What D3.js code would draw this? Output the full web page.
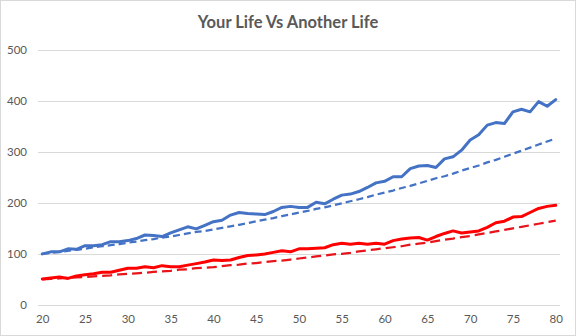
<!DOCTYPE html>
<html>
<head>
<meta charset="utf-8">
<script src="https://cdn.jsdelivr.net/npm/d3@7"></script>
<style>
  html, body { margin: 0; padding: 0; background: #fff; }
  svg { display: block; }
  text { font-family: Lato, "Open Sans", sans-serif; fill: #595959; }
</style>
</head>
<body>
<svg id="chart" width="576" height="336"></svg>
<script>
// Ages on the category axis
const ages = d3.range(20, 81);
const xTickLabels = [20, 25, 30, 35, 40, 45, 50, 55, 60, 65, 70, 75, 80];
const yTickValues = [0, 100, 200, 300, 400, 500];

// "Your life" (blue, solid) and its trend (blue, dashed)
const yourLife = [100, 104, 104, 110, 109, 116, 116, 118, 124, 124,
  126, 130, 137, 136, 134, 141, 147, 153, 149, 156,
  163, 166, 176, 181, 179, 178, 177, 183, 191, 193,
  191, 191, 201, 198, 207, 215, 217, 222, 230, 239,
  242, 251, 251, 267, 272, 273, 269, 286, 290, 303,
  323, 333, 352, 357, 355, 378, 383, 378, 398, 389, 402];
const yourTrend = [100, 102, 104, 106, 108, 110, 113, 115, 117, 119,
  122, 124, 127, 129, 132, 134, 137, 140, 143, 145,
  148, 151, 154, 157, 160, 164, 167, 170, 174, 177,
  181, 184, 188, 191, 195, 199, 203, 207, 211, 216,
  220, 224, 229, 233, 238, 243, 248, 252, 257, 263,
  268, 273, 279, 284, 290, 296, 302, 308, 314, 320, 326];

// "Another life" (red, solid) and its trend (red, dashed)
const anotherLife = [51, 53, 55, 52, 57, 59, 61, 64, 64, 68,
  72, 72, 75, 73, 77, 75, 75, 78, 81, 84,
  88, 87, 88, 93, 97, 98, 100, 103, 106, 104,
  110, 110, 111, 112, 118, 121, 119, 121, 119, 121,
  119, 126, 129, 131, 132, 127, 134, 140, 145, 141,
  143, 145, 152, 161, 164, 172, 173, 181, 189, 193, 195];
const anotherTrend = [50, 51, 52, 53, 54, 55, 56, 57, 58, 60,
  61, 62, 63, 65, 66, 67, 69, 70, 72, 73,
  74, 76, 78, 79, 81, 82, 84, 86, 87, 89,
  91, 93, 95, 97, 99, 100, 102, 105, 107, 109,
  111, 113, 115, 118, 120, 122, 125, 128, 130, 133,
  135, 138, 141, 144, 147, 150, 153, 156, 159, 162, 165];

const svg = d3.select("#chart");
const W = 576, H = 336;
const plot = { left: 38, right: 560, top: 49.5, bottom: 305 };

// Chart frame
svg.append("rect")
  .attr("x", 0.5).attr("y", 0.5)
  .attr("width", W - 1).attr("height", H - 1)
  .attr("fill", "#fff").attr("stroke", "#d9d9d9");

// Title
svg.append("text")
  .attr("x", W / 2).attr("y", 28)
  .attr("text-anchor", "middle")
  .style("font-size", "16.5px").style("font-weight", "bold")
  .text("Your Life Vs Another Life");

// Scales: categories sit in the middle of equal bands
const x = d3.scaleBand().domain(ages).range([plot.left, plot.right]);
const xc = a => x(a) + x.bandwidth() / 2;
const y = d3.scaleLinear().domain([0, 500]).range([plot.bottom, plot.top]);

// Horizontal gridlines
svg.append("g")
  .attr("transform", `translate(${plot.left},0)`)
  .call(d3.axisLeft(y).tickValues(yTickValues).tickSize(-(plot.right - plot.left)).tickFormat(""))
  .call(g => g.select(".domain").remove())
  .call(g => g.selectAll("line").attr("stroke", "#d9d9d9").attr("shape-rendering", "crispEdges"));

// Y tick labels
svg.append("g")
  .attr("transform", `translate(27,0)`)
  .call(d3.axisLeft(y).tickValues(yTickValues).tickSize(0).tickPadding(0))
  .call(g => g.select(".domain").remove())
  .call(g => g.selectAll("text").style("font-size", "11.5px").attr("fill", "#595959").attr("x", 0).style("text-anchor", "end"));

// X tick labels
const xAxis = d3.axisBottom(d3.scalePoint().domain(ages).range([xc(20), xc(80)]))
  .tickValues(xTickLabels).tickSize(0).tickPadding(0);
svg.append("g")
  .attr("transform", `translate(0,${plot.bottom + 10})`)
  .call(xAxis)
  .call(g => g.select(".domain").remove())
  .call(g => g.selectAll("text").style("font-size", "11.5px").attr("fill", "#595959").attr("dy", "0.71em"));

// Lines
const line = d3.line().x((d, i) => xc(ages[i])).y(d => y(d));
const series = [
  { values: yourTrend, color: "#4472c4", width: 2.25, dash: "7,4", cap: "butt" },
  { values: anotherTrend, color: "#e8141b", width: 2.25, dash: "10,5", cap: "butt" },
  { values: anotherLife, color: "#ff0000", width: 3, dash: null, cap: "round" },
  { values: yourLife, color: "#4472c4", width: 3, dash: null, cap: "round" }
];
svg.append("g").selectAll("path")
  .data(series)
  .join("path")
  .attr("d", d => line(d.values))
  .attr("fill", "none")
  .attr("stroke", d => d.color)
  .attr("stroke-width", d => d.width)
  .attr("stroke-dasharray", d => d.dash)
  .attr("stroke-linecap", d => d.cap)
  .attr("stroke-linejoin", "round");
</script>
</body>
</html>
